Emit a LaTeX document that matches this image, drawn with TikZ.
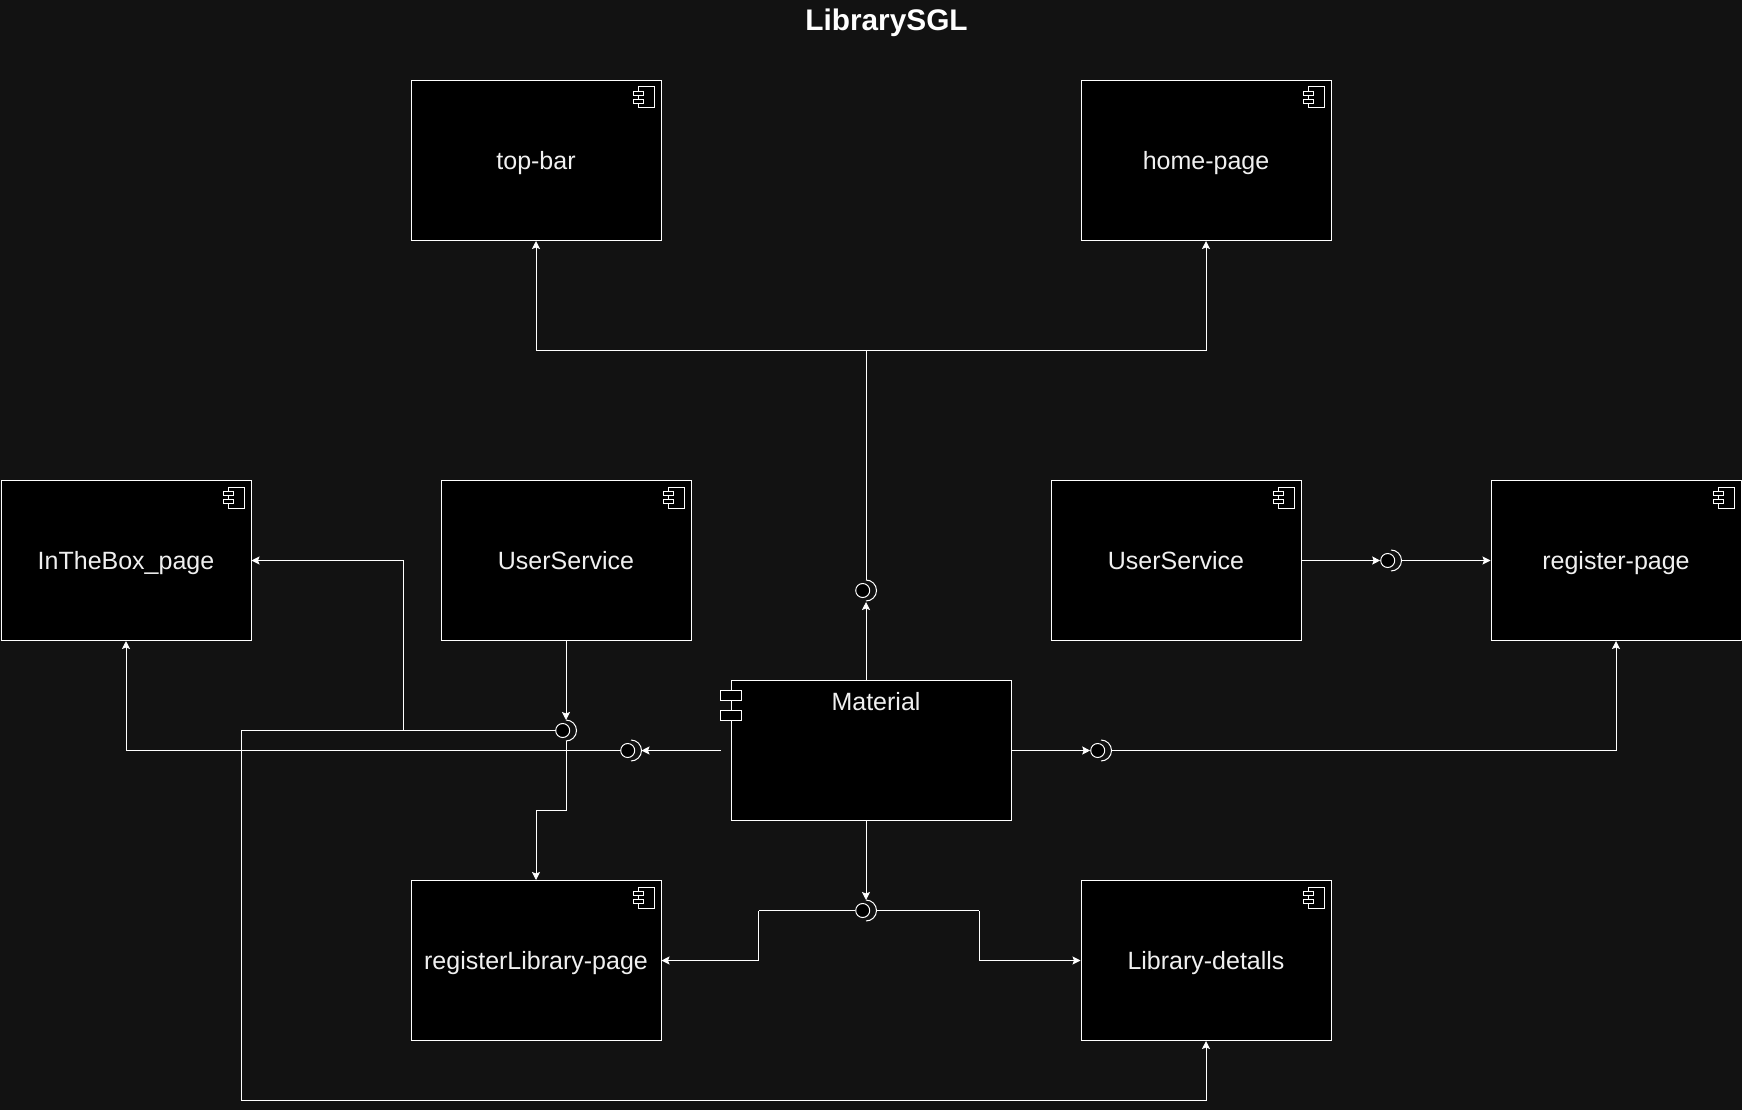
\documentclass[tikz,border=0pt]{standalone}
\usepackage{fontspec}
\setmainfont{Liberation Sans}
\usetikzlibrary{arrows.meta}
\definecolor{bgdark}{HTML}{121212}
\definecolor{inkw}{HTML}{F0F0F0}
\tikzset{
  x=1pt,y=-1pt,
  comp/.style={draw=white,fill=black,line width=1pt,minimum width=250pt,minimum height=160pt,inner sep=0pt,text=inkw,font=\fontsize{25}{28}\selectfont,text height=18pt,text depth=0pt},
  compbig/.style={draw=white,fill=black,line width=1pt,minimum width=280pt,minimum height=140pt,inner sep=0pt},
  conn/.style={draw=white,line width=1pt,-{Stealth[length=8pt,width=8pt,inset=1.5pt]}},
  plain/.style={draw=white,line width=1pt},
  ball/.style={circle,draw=white,fill=black,line width=1pt,minimum size=14pt,inner sep=0pt},
  sock/.style={draw=white,line width=1pt},
  ico/.style={draw=white,fill=black,line width=1pt},
  lab/.style={text=inkw,font=\fontsize{25}{28}\selectfont,inner sep=0pt}
}
% component icon in the top right corner of a node
\newcommand{\cicon}[1]{%
  \draw[ico] ([shift={(-23.3,7)}]#1.north east) rectangle ([shift={(-6.7,28)}]#1.north east);
  \draw[ico] ([shift={(-28,11.5)}]#1.north east) rectangle ([shift={(-18,15.5)}]#1.north east);
  \draw[ico] ([shift={(-28,19.5)}]#1.north east) rectangle ([shift={(-18,23.5)}]#1.north east);
}
% lollipop: #1 name, #2 x, #3 y of the socket's centre
\newcommand{\lolli}[3]{%
  \coordinate (#1) at (#2,#3);
  \coordinate (#1t) at (#2,#3-10.5);
  \coordinate (#1b) at (#2,#3+10.5);
  \coordinate (#1r) at (#2+10.5,#3);
  \node[ball] (#1c) at (#2-3.3,#3) {};
  \draw[sock] (#1t) arc[start angle=-90,end angle=90,radius=10.5,x=1pt,y=-1pt];
}
\begin{document}
\begin{tikzpicture}
\useasboundingbox[fill=bgdark] (0,0) rectangle (1742,1110);
\node[text=white,font=\bfseries\fontsize{29.8}{32}\selectfont,inner sep=0pt] (title) at (886.5,23) {LibrarySGL};
% boxes
\node[comp] (topbar) at (536,160.5) {top-bar};
\node[comp] (home) at (1206,160.5) {home-page};
\node[comp] (box) at (126,560.5) {InTheBox\_page};
\node[comp] (usa) at (566,560.5) {UserService};
\node[comp] (usb) at (1176,560.5) {UserService};
\node[comp] (reg) at (1616,560.5) {register-page};
\node[comp] (rlib) at (536,960.5) {registerLibrary-page};
\node[comp] (det) at (1206,960.5) {Library-detalls};
\node[compbig] (mat) at (871,750.5) {};
\node[lab] (matl) at (876,702) {Material};
\foreach \n in {topbar,home,box,usa,usb,reg,rlib,det}{\cicon{\n}}
\draw[ico] (720.5,690.5) rectangle (741.5,700.5);
\draw[ico] (720.5,710.5) rectangle (741.5,720.5);
% lollipops
\lolli{la}{566}{730.5}
\lolli{lb}{631}{750.5}
\lolli{lc}{866}{590.5}
\lolli{ld}{866}{910.5}
\lolli{le}{1101}{750.5}
\lolli{lf}{1391}{560.5}
% named way points
\coordinate (jt) at (866,350.5);
\coordinate (jm) at (403.5,730.5);
\coordinate (js) at (241,730.5);
\coordinate (jb) at (241,1100.5);
\coordinate (jd) at (536,810.5);
\coordinate (jl) at (758.5,910.5);
\coordinate (jr) at (979,910.5);
\coordinate (mw) at (721,750.5);
\coordinate (ltip) at (866,602);
% top group
\draw[conn] (mat.north -| lc) -- (ltip);
\draw[plain] (lct) -- (jt);
\draw[conn] (jt) -| (topbar.south);
\draw[conn] (jt) -| (home.south);
% left of Material
\draw[conn] (mw) -- (lbr);
\draw[conn] (lbc.west) -| (box.south);
% UserService to lollipop
\draw[conn] (usa.south) -- (lat);
\draw[plain] (lac.west) -- (js) -- (jb);
\draw[conn] (jb) -| (det.south);
\draw[conn] (jm) |- (box.east);
\draw[plain] (lab) |- (jd);
\draw[conn] (jd) -- (rlib.north);
% bottom
\draw[conn] (mat.south -| ld) -- (ldt);
\draw[plain] (ldc.west) -- (jl);
\draw[plain] (ldr) -- (jr);
\draw[conn] (jl) |- (rlib.east);
\draw[conn] (jr) |- (det.west);
% right
\draw[conn] (mat.east) -- (lec.west);
\draw[conn] (ler) -| (reg.south);
\draw[conn] (usb.east) -- (lfc.west);
\draw[conn] (lfr) -- (reg.west);
\end{tikzpicture}
\end{document}
